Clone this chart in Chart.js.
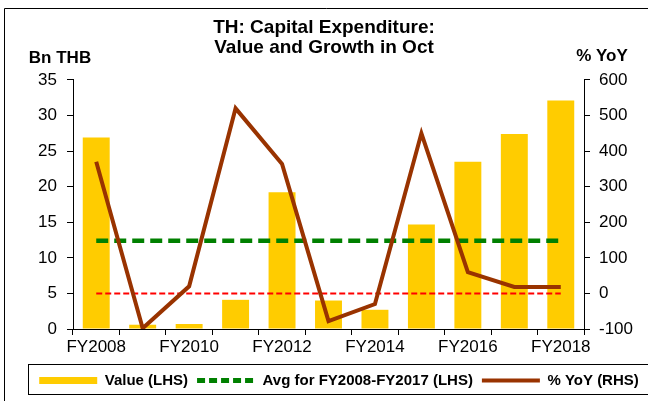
<!DOCTYPE html>
<html>
<head>
<meta charset="utf-8">
<script src="https://cdn.jsdelivr.net/npm/chart.js@4.4.1/dist/chart.umd.min.js"></script>
<style>
  html, body { margin: 0; padding: 0; background: #fff; }
  #wrap { width: 648px; height: 401px; }
</style>
</head>
<body>
<div id="wrap"><canvas id="capexChart"></canvas></div>
<script>
const categories = ["FY2008", "FY2009", "FY2010", "FY2011", "FY2012", "FY2013",
  "FY2014", "FY2015", "FY2016", "FY2017", "FY2018"];
const capexValue = [26.9, 0.6, 0.7, 4.1, 19.2, 4.0, 2.7, 14.7, 23.5, 27.4, 32.1];
const avgValue = [12.4, 12.4, 12.4, 12.4, 12.4, 12.4, 12.4, 12.4, 12.4, 12.4, 12.4];
const yoyGrowth = [370, -98, 20, 520, 364, -78, -30, 450, 60, 18, 18];
const zeroLine = [0, 0, 0, 0, 0, 0, 0, 0, 0, 0, 0];

const FONT = "'Liberation Sans', Arial, sans-serif";

// frame, legend box and axis unit labels
const extras = {
  id: "extras",
  afterLayout(chart) {
    // nudge legend a bit to the right, like the original
    chart.legend.left += 15;
    chart.legend.right += 15;
  },
  afterDraw(chart) {
    const ctx = chart.ctx;
    const lg = chart.legend;
    ctx.save();
    ctx.strokeStyle = "#000";
    ctx.lineWidth = 1;
    ctx.beginPath();
    ctx.moveTo(4.5, 401);
    ctx.lineTo(4.5, 8.5);
    ctx.lineTo(648, 8.5);
    ctx.stroke();

    const mid = (lg.left + lg.right) / 2;
    const w = lg.lineWidths[0];
    const x0 = Math.round(mid - w / 2 - 7) + 0.5;
    ctx.strokeRect(x0, Math.round(lg.top) + 0.5, Math.round(w + 13), Math.round(lg.height - 4));

    ctx.fillStyle = "#000";
    ctx.font = "bold 17px " + FONT;
    ctx.textAlign = "center";
    ctx.textBaseline = "middle";
    ctx.fillText("Bn THB", 60, 58);
    ctx.fillText("% YoY", 602, 56);
    ctx.restore();
  }
};

new Chart(document.getElementById("capexChart").getContext("2d"), {
  type: "bar",
  data: {
    labels: categories,
    datasets: [
      {
        label: "Value (LHS)",
        data: capexValue,
        backgroundColor: "#FFCC00",
        barPercentage: 0.58,
        categoryPercentage: 1,
        yAxisID: "y",
        order: 3
      },
      {
        type: "line",
        label: "Avg for FY2008-FY2017 (LHS)",
        data: avgValue,
        borderColor: "#008000",
        borderWidth: 4.5,
        borderDash: [12, 6],
        pointRadius: 0,
        fill: false,
        yAxisID: "y",
        order: 1
      },
      {
        type: "line",
        label: "% YoY (RHS)",
        data: yoyGrowth,
        borderColor: "#993300",
        borderWidth: 4,
        borderJoinStyle: "miter",
        pointRadius: 0,
        tension: 0,
        fill: false,
        yAxisID: "y1",
        order: 0
      },
      {
        type: "line",
        label: "zero",
        data: zeroLine,
        borderColor: "#FF0000",
        borderWidth: 2,
        borderDash: [6, 3],
        pointRadius: 0,
        fill: false,
        yAxisID: "y1",
        order: 2
      }
    ]
  },
  options: {
    responsive: true,
    maintainAspectRatio: false,
    animation: false,
    layout: { padding: { left: 4, right: 4, top: 10, bottom: 3 } },
    plugins: {
      title: {
        display: true,
        text: ["TH: Capital Expenditure:", "Value and Growth in Oct"],
        color: "#000",
        font: { family: FONT, size: 19, weight: "bold", lineHeight: 1.05 },
        padding: { top: 8, bottom: 22 }
      },
      legend: {
        position: "bottom",
        labels: {
          color: "#000",
          font: { family: FONT, size: 15, weight: "bold" },
          usePointStyle: true,
          pointStyle: "line",
          pointStyleWidth: 58,
          padding: 9,
          filter: (item) => item.text !== "zero",
          sort: (a, b) => a.datasetIndex - b.datasetIndex,
          generateLabels(chart) {
            const items = Chart.defaults.plugins.legend.labels.generateLabels(chart);
            items.forEach((it) => {
              it.pointStyle = "line";
              if (it.datasetIndex === 0) {
                it.lineWidth = 7;
                it.strokeStyle = "#FFCC00";
                it.lineDash = [];
              }
              if (it.datasetIndex === 1) {
                it.lineDash = [8, 4];
                it.lineWidth = 5;
              }
              it.lineCap = "butt";
            });
            return items;
          }
        }
      },
      tooltip: { enabled: false }
    },
    scales: {
      x: {
        offset: true,
        grid: { display: true, offset: true, drawOnChartArea: false, color: "#000", tickLength: 6 },
        border: { color: "#000" },
        afterFit: (scale) => { scale.height = 35; },
        ticks: {
          autoSkip: false,
          maxRotation: 0,
          padding: 2,
          color: "#000",
          font: { family: FONT, size: 17 },
          callback: (val, i) => (i % 2 === 0 ? categories[i] : "")
        }
      },
      y: {
        position: "left",
        min: 0,
        max: 35,
        afterFit: (scale) => { scale.width = 69; },
        grid: { drawOnChartArea: false, color: "#000", tickLength: 6 },
        border: { color: "#000" },
        ticks: { stepSize: 5, padding: 10, color: "#000", font: { family: FONT, size: 17 } }
      },
      y1: {
        position: "right",
        min: -100,
        max: 600,
        afterFit: (scale) => { scale.width = 60; },
        grid: { drawOnChartArea: false, color: "#000", tickLength: 6 },
        border: { color: "#000" },
        ticks: { stepSize: 100, padding: 9, color: "#000", font: { family: FONT, size: 17 } }
      }
    }
  },
  plugins: [extras]
});
</script>
</body>
</html>
